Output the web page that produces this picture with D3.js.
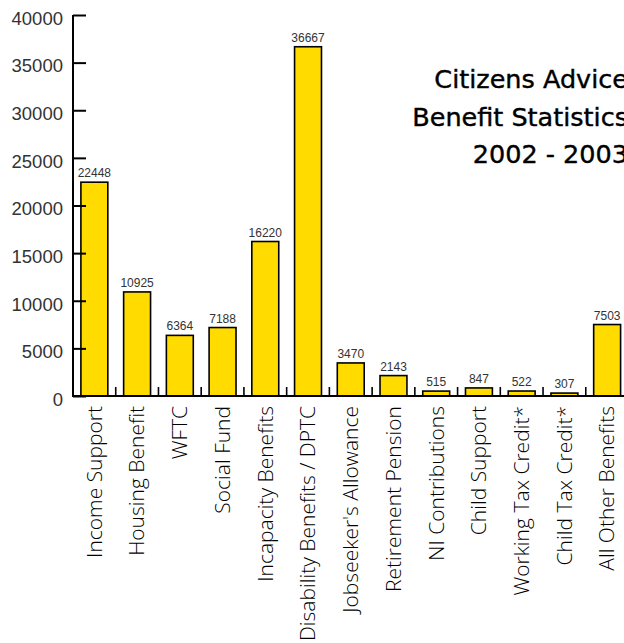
<!DOCTYPE html>
<html>
<head>
<meta charset="utf-8">
<script src="https://cdn.jsdelivr.net/npm/d3@7"></script>
<style>
  html, body { margin: 0; padding: 0; background: #fff; overflow: hidden; }
  svg { display: block; }
</style>
</head>
<body>
<svg width="624" height="643"></svg>
<script>
// datos del grafico
const categories = ["Income Support", "Housing Benefit", "WFTC", "Social Fund", "Incapacity Benefits",
  "Disability Benefits / DPTC", "Jobseeker's Allowance", "Retirement Pension", "NI Contributions",
  "Child Support", "Working Tax Credit*", "Child Tax Credit*", "All Other Benefits"];
const values = [22448, 10925, 6364, 7188, 16220, 36667, 3470, 2143, 515, 847, 522, 307, 7503];
const yTicks = [0, 5000, 10000, 15000, 20000, 25000, 30000, 35000, 40000];
const titleLines = ["Citizens Advice", "Benefit Statistics", "2002 - 2003"];

const data = categories.map((c, i) => ({ name: c, value: values[i] }));

const svg = d3.select("svg");
const x0 = 73, baseY = 396;

const xScale = d3.scaleBand()
  .domain(categories)
  .range([x0, 628.5])
  .paddingInner(0.37)
  .paddingOuter(0.185);

const yScale = d3.scaleLinear()
  .domain([0, 40000])
  .range([baseY, 15]);

// barras
svg.append("g").selectAll("rect")
  .data(data)
  .join("rect")
  .attr("x", d => xScale(d.name))
  .attr("y", d => yScale(d.value))
  .attr("width", xScale.bandwidth())
  .attr("height", d => baseY - yScale(d.value))
  .attr("fill", "#FFDB00")
  .attr("stroke", "#000")
  .attr("stroke-width", 1.6);

// etiquetas de valor
svg.append("g").selectAll("text")
  .data(data)
  .join("text")
  .attr("x", d => xScale(d.name) + xScale.bandwidth() / 2)
  .attr("y", d => yScale(d.value) - 5)
  .attr("text-anchor", "middle")
  .attr("font-family", "Liberation Sans, Arial, sans-serif")
  .attr("font-size", 12)
  .attr("fill", "#333")
  .text(d => d.value);

// eje y
const yAxis = d3.axisRight(yScale)
  .tickValues(yTicks)
  .tickSize(13)
  .tickFormat(d3.format("d"));

const gy = svg.append("g")
  .attr("transform", `translate(${x0},0)`)
  .call(yAxis);
gy.select(".domain").remove();
gy.selectAll(".tick line").attr("stroke", "#000").attr("stroke-width", 2);
gy.selectAll(".tick text")
  .attr("x", -10)
  .attr("dy", "0.5em")
  .attr("text-anchor", "end")
  .attr("font-family", "Liberation Sans, Arial, sans-serif")
  .attr("font-size", 18.5)
  .attr("fill", "#333");

// lineas de ejes
svg.append("line")
  .attr("x1", x0).attr("x2", x0)
  .attr("y1", yScale(40000)).attr("y2", baseY + 1)
  .attr("stroke", "#000").attr("stroke-width", 2);
svg.append("line")
  .attr("x1", x0 - 1).attr("x2", 640)
  .attr("y1", baseY).attr("y2", baseY)
  .attr("stroke", "#000").attr("stroke-width", 2);

// marcas entre categorias
svg.append("g").selectAll("line")
  .data(categories.slice(1))
  .join("line")
  .attr("x1", d => xScale(d) - xScale.step() * 0.185)
  .attr("x2", d => xScale(d) - xScale.step() * 0.185)
  .attr("y1", baseY)
  .attr("y2", baseY - 9)
  .attr("stroke", "#000")
  .attr("stroke-width", 1.6);

// etiquetas de categoria
svg.append("g").selectAll("text")
  .data(categories)
  .join("text")
  .attr("transform", d => `translate(${xScale(d) + xScale.bandwidth() / 2},406) rotate(-90)`)
  .attr("dy", "0.35em")
  .attr("text-anchor", "end")
  .attr("font-family", "Open Sans, Liberation Sans, sans-serif")
  .attr("font-weight", 300)
  .attr("font-size", 21)
  .attr("fill", "#000")
  .text(d => d);

// titulo
svg.append("g").selectAll("text")
  .data(titleLines)
  .join("text")
  .attr("x", 628)
  .attr("y", (d, i) => 88 + i * 37.5)
  .attr("text-anchor", "end")
  .attr("font-family", "DejaVu Sans, sans-serif")
  .attr("font-size", 25.5)
  .attr("fill", "#000")
  .attr("stroke", "#000")
  .attr("stroke-width", 0.4)
  .text(d => d);
</script>
</body>
</html>
